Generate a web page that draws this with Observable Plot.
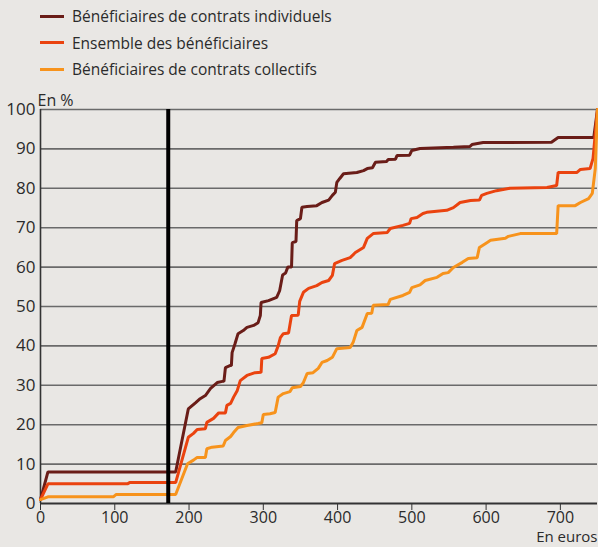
<!DOCTYPE html>
<html><head><meta charset="utf-8">
<script src="https://cdn.jsdelivr.net/npm/d3@7"></script>
<script src="https://cdn.jsdelivr.net/npm/@observablehq/plot@0.6"></script>
<style>
html,body{margin:0;padding:0;background:#e9e7e4;}
body{width:598px;height:547px;overflow:hidden;font-family:"Open Sans","Noto Sans",sans-serif;color:#2b2b2b;}
#legend{height:80px;position:relative;}
.item{position:absolute;left:40px;height:20px;display:flex;align-items:center;font-size:15.5px;}
.sw{width:24px;height:3px;margin-right:8px;}
</style></head>
<body>
<div id="legend"></div>
<div id="chart"></div>
<script>
const seriesNames = ["Bénéficiaires de contrats individuels","Ensemble des bénéficiaires","Bénéficiaires de contrats collectifs"];
const seriesColors = ["#6a1d18","#ea430f","#f7931c"];
const xTicks = [0,100,200,300,400,500,600,700];
const yTicks = [0,10,20,30,40,50,60,70,80,90,100];
const refLineX = 172;

const indivX = [0,10,182,199,209,215,222,229,238,245,247,249,255,257,258,262,266,273,278,287,293,296,297,307,318,322,326,330,333,338,339,344,345,350,352,359,372,379,388,393,397,399,403,408,426,435,440,447,451,466,468,478,480,497,500,511,556,578,581,596,688,697,745,750];
const indivY = [1,8,8,24,25.6,26.6,27.4,29.2,30.7,31,31,34.5,35,35,38.3,40.6,43.1,43.9,44.7,45.2,45.9,47.7,51,51.5,52.3,54,58,58.5,60,60,66.2,66.5,71.8,72.3,75.2,75.4,75.6,76.4,77,78.2,79,81.5,82.5,83.7,84,84.5,85,85.2,86.6,86.8,87.3,87.4,88.3,88.4,89.6,90.1,90.4,90.6,91.1,91.6,91.7,92.9,92.9,100];

const ensX = [0,10,117,120,182,199,206,211,222,224,233,240,249,251,256,260,265,269,278,289,297,298,307,316,320,323,327,334,338,347,349,354,361,372,379,388,393,396,406,417,424,435,440,448,467,471,488,497,499,507,515,520,547,556,565,579,591,594,601,614,632,682,695,697,722,727,740,744,750];
const ensY = [1,5,5,5.3,5.3,16.8,17.8,18.8,19,20.6,21.6,23,23,24.9,25.4,27,28.7,31.2,32.5,33.2,33.3,36.8,37.1,38,40,42.1,43.1,43.3,47.7,47.8,51.3,53.6,54.6,55.3,56.1,56.6,57.9,60.9,61.7,62.4,63.7,65,67.3,68.5,68.8,69.8,70.6,71.1,72.3,72.6,73.6,73.9,74.4,75.1,76.4,76.9,77,78.2,78.7,79.4,80,80.2,80.7,84,84,84.8,85,87.6,100];

const collX = [0,10,98,102,182,198,206,211,222,224,231,246,249,256,260,266,278,293,298,300,309,316,320,327,336,339,350,354,359,367,374,379,386,393,399,417,421,426,433,440,446,448,468,471,488,497,500,511,518,534,542,549,556,568,576,588,591,601,606,626,630,646,695,697,720,727,738,743,747,750];
const collY = [1,1.7,1.7,2.3,2.3,10.1,11,11.7,11.7,13.9,14.3,14.6,16,17,18,19.3,19.8,20.3,20.5,22.6,22.8,23.1,27,27.9,28.4,29.4,29.7,30.7,33,33.2,34.3,35.8,36.3,37.1,39.3,39.6,40.9,43.9,44.7,48.2,48.3,50.3,50.5,51.8,52.8,53.6,54.8,55.5,56.6,57.4,58.4,58.6,59.9,61.2,62.2,62.4,65,66.2,66.8,67.3,67.8,68.5,68.5,75.6,75.6,76.4,77.4,78.7,85,100];

// legend
const leg = document.getElementById("legend");
seriesNames.forEach((n,i)=>{
  const d = document.createElement("div");
  d.className="item";
  d.style.top = (6 + i*26.5) + "px";
  d.innerHTML = `<span class="sw" style="background:${seriesColors[i]}"></span><span>${n}</span>`;
  leg.appendChild(d);
});

const toRows = (xs, ys, s) => xs.map((x,i)=>({x, y: ys[i], s}));
const rows = [
  ...toRows(indivX, indivY, seriesNames[0]),
  ...toRows(ensX, ensY, seriesNames[1]),
  ...toRows(collX, collY, seriesNames[2])
];

const chart = Plot.plot({
  width: 598, height: 467,
  marginTop: 29, marginBottom: 44, marginLeft: 40, marginRight: 1,
  style: {background: "transparent", fontFamily: "'Open Sans', 'Noto Sans', sans-serif", fontSize: "16px", color: "#2b2b2b"},
  x: {domain: [0, 750]},
  y: {domain: [0, 100]},
  color: {domain: seriesNames, range: seriesColors},
  marks: [
    Plot.ruleY(yTicks.filter(d=>d>0), {stroke: "#6a6a6a", strokeWidth: 1.6}),
    Plot.axisY({ticks: yTicks, tickSize: 0, tickPadding: 5, label: null, fontSize: 17}),
    Plot.axisX({ticks: xTicks, tickSize: 7, tickPadding: 1, label: null, fontSize: 16, stroke: "#333"}),
    Plot.ruleX([0], {y1: 0, y2: 100, stroke: "#333", strokeWidth: 1.6}),
    Plot.ruleY([0], {stroke: "#333", strokeWidth: 2}),
    Plot.line(rows, {x: "x", y: "y", z: "s", stroke: "s", strokeWidth: 3, strokeLinejoin: "miter"}),
    Plot.ruleX([refLineX], {y1: 0, y2: 100, stroke: "#000", strokeWidth: 4}),
    Plot.text(["En %"], {frameAnchor: "top-left", dx: -3, dy: -15, textAnchor: "start", fontSize: 16}),
    Plot.text(["En euros"], {frameAnchor: "bottom-right", dy: 38, textAnchor: "end", fontSize: 15})
  ]
});
document.getElementById("chart").appendChild(chart);
</script>
</body></html>
